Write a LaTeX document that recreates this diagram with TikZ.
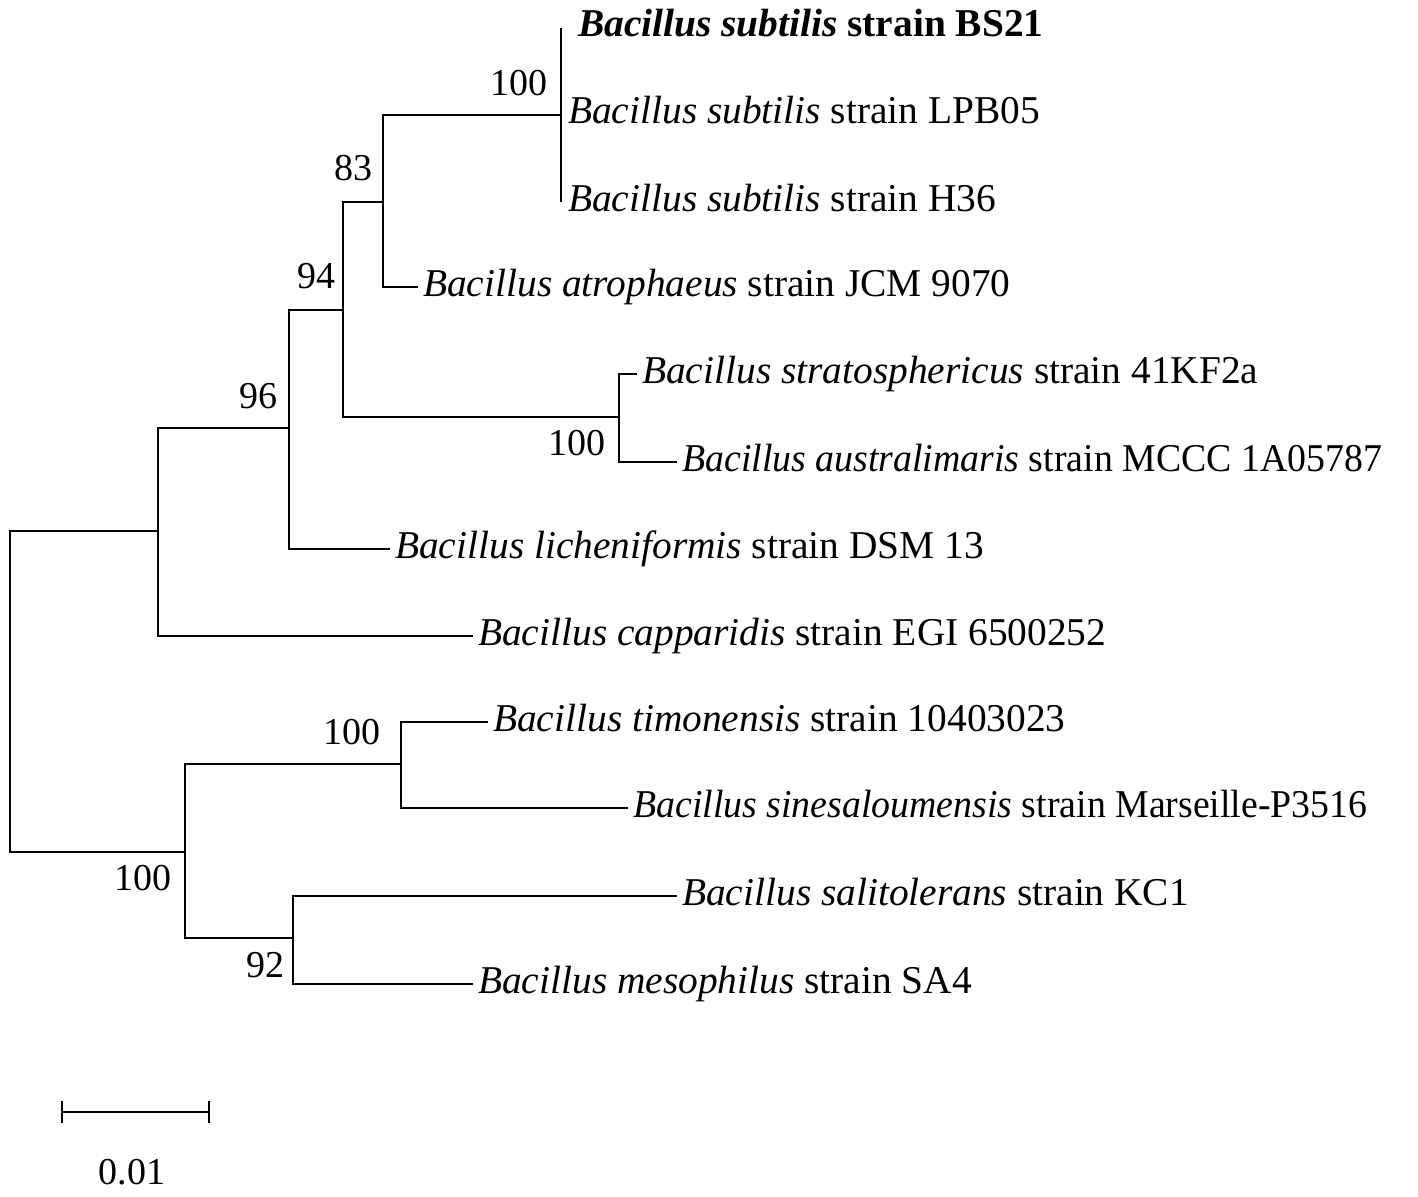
\documentclass[tikz,border=0pt]{standalone}
\usepackage{fontspec}
\usepackage{graphicx}
\setmainfont{Liberation Serif}
\begin{document}
\begin{tikzpicture}[x=1pt,y=-1pt,
  branch/.style={line width=2.7pt,line join=miter,line cap=butt},
  tiplabel/.style={anchor=base west,inner sep=0pt,xshift=5pt,yshift=-9pt,font=\fontsize{39.4}{46}\selectfont},
  boot/.style={inner sep=0pt,font=\fontsize{38}{44}\selectfont}]
\useasboundingbox (0,0) rectangle (1418,1196);
% internal nodes
\coordinate (R) at (10,700);
\coordinate (A) at (158,531);
\coordinate (B) at (289,428);
\coordinate (C) at (343,310);
\coordinate (D) at (383,202);
\coordinate (E) at (561,115);
\coordinate (F) at (619,417);
\coordinate (G) at (185,852);
\coordinate (H) at (401,764);
\coordinate (I) at (293,938);
% tips
\coordinate (bs21) at (561,28);
\coordinate (lpb) at (561,115);
\coordinate (h36) at (561,202);
\coordinate (atro) at (418,287);
\coordinate (strat) at (637,374);
\coordinate (aust) at (677,462);
\coordinate (lich) at (390,549);
\coordinate (capp) at (473,636);
\coordinate (timo) at (488,722);
\coordinate (sine) at (628,808);
\coordinate (sali) at (677,896);
\coordinate (meso) at (473,984);
% branches
\draw[branch] (R) |- (A);
\draw[branch] (R) |- (G);
\draw[branch] (A) |- (B);
\draw[branch] (A) |- (capp);
\draw[branch] (B) |- (C);
\draw[branch] (B) |- (lich);
\draw[branch] (C) |- (D);
\draw[branch] (C) |- (F);
\draw[branch] (D) |- (E);
\draw[branch] (D) |- (atro);
\draw[branch] (E) -- (bs21);
\draw[branch] (E) -- (h36);
\draw[branch] (F) |- (strat);
\draw[branch] (F) |- (aust);
\draw[branch] (G) |- (H);
\draw[branch] (G) |- (I);
\draw[branch] (H) |- (timo);
\draw[branch] (H) |- (sine);
\draw[branch] (I) |- (sali);
\draw[branch] (I) |- (meso);
% tip labels
\node[tiplabel,xshift=12pt] (tbs21) at (bs21) {\bfseries\textit{Bacillus subtilis} strain BS21};
\node[tiplabel,xshift=2pt] (tlpb) at (lpb) {\textit{Bacillus subtilis} strain LPB05};
\node[tiplabel,xshift=2pt] (th36) at (h36) {\textit{Bacillus subtilis} strain H36};
\node[tiplabel] (tatro) at (atro) {\textit{Bacillus atrophaeus} strain JCM 9070};
\node[tiplabel] (tstrat) at (strat) {\textit{Bacillus stratosphericus} strain 41KF2a};
\node[tiplabel] (taust) at (aust) {\scalebox{0.96}[1]{\textit{Bacillus australimaris} strain MCCC 1A05787}};
\node[tiplabel] (tlich) at (lich) {\textit{Bacillus licheniformis} strain DSM 13};
\node[tiplabel] (tcapp) at (capp) {\textit{Bacillus capparidis} strain EGI 6500252};
\node[tiplabel] (ttimo) at (timo) {\textit{Bacillus timonensis} strain 10403023};
\node[tiplabel] (tsine) at (sine) {\scalebox{0.96}[1]{\textit{Bacillus sinesaloumensis} strain Marseille-P3516}};
\node[tiplabel] (tsali) at (sali) {\textit{Bacillus salitolerans} strain KC1};
\node[tiplabel] (tmeso) at (meso) {\textit{Bacillus mesophilus} strain SA4};
% bootstrap values
\node[boot] (bE) at (519,83) {100};
\node[boot] (bD) at (353,168) {83};
\node[boot] (bC) at (316,276) {94};
\node[boot] (bB) at (258,396) {96};
\node[boot] (bF) at (577,443) {100};
\node[boot] (bH) at (352,732) {100};
\node[boot] (bG) at (143,878) {100};
\node[boot] (bI) at (265,965) {92};
% scale bar
\coordinate (s1) at (62,1112);
\coordinate (s2) at (209,1112);
\draw[branch] (s1) -- (s2);
\draw[branch] ([yshift=11pt]s1) -- ([yshift=-11pt]s1);
\draw[branch] ([yshift=11pt]s2) -- ([yshift=-11pt]s2);
\node[boot] (scale) at (132,1172) {0.01};
\end{tikzpicture}
\end{document}
